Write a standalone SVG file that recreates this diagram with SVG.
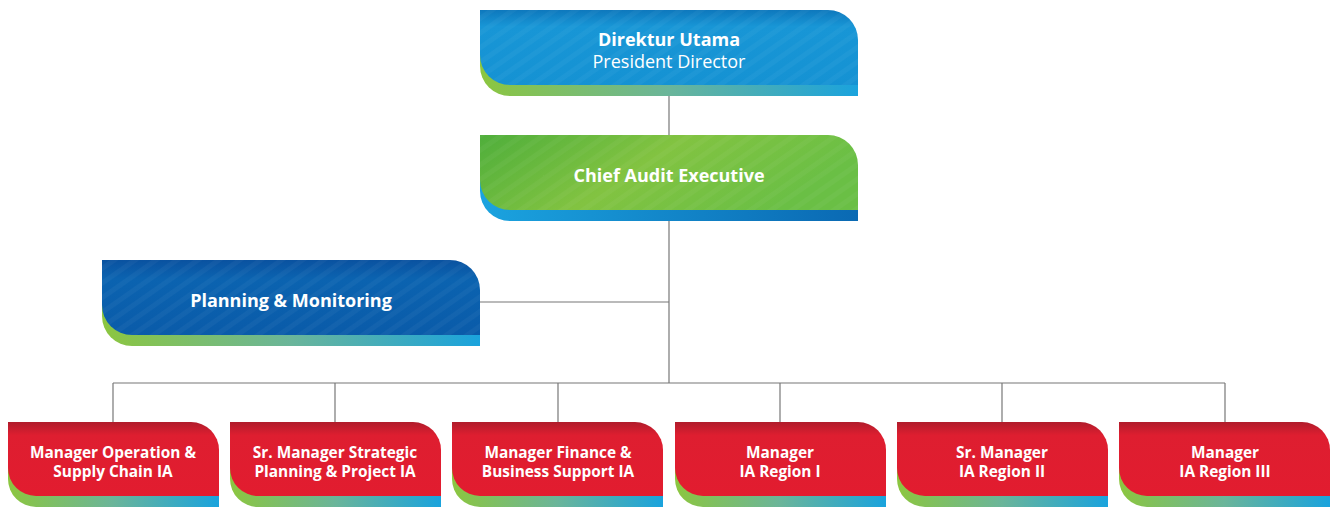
<svg xmlns="http://www.w3.org/2000/svg" width="1333" height="507" viewBox="0 0 1333 507">
<defs>
<linearGradient id="gb" x1="0" y1="0" x2="1" y2="0"><stop offset="0" stop-color="#8cc63f"/><stop offset="0.5" stop-color="#6ab59a"/><stop offset="1" stop-color="#1aa3dd"/></linearGradient>
<linearGradient id="bb" x1="0" y1="0" x2="1" y2="0"><stop offset="0" stop-color="#1ba3df"/><stop offset="1" stop-color="#0a69b3"/></linearGradient>
<linearGradient id="blue1" x1="0" y1="0" x2="0" y2="1"><stop offset="0" stop-color="#0e78bd"/><stop offset="0.22" stop-color="#1896d6"/><stop offset="1" stop-color="#1592d3"/></linearGradient>
<linearGradient id="green1" x1="0" y1="0" x2="1" y2="0.3"><stop offset="0" stop-color="#4fae3b"/><stop offset="0.5" stop-color="#82c341"/><stop offset="1" stop-color="#6abf45"/></linearGradient>
<linearGradient id="blue2" x1="0" y1="0" x2="0" y2="1"><stop offset="0" stop-color="#0a52a0"/><stop offset="0.25" stop-color="#0b63b0"/><stop offset="1" stop-color="#0a5ba9"/></linearGradient>
<linearGradient id="red1" x1="0" y1="0" x2="0" y2="1"><stop offset="0" stop-color="#b01c2b"/><stop offset="0.18" stop-color="#de1e30"/><stop offset="1" stop-color="#e21c2f"/></linearGradient>
<pattern id="stripes" width="12" height="12" patternUnits="userSpaceOnUse" patternTransform="rotate(-35)"><rect width="12" height="5" fill="#ffffff" opacity="0.035"/></pattern>
</defs>
<style>
.t{font-family:"Open Sans","Noto Sans","Liberation Sans",sans-serif;fill:#ffffff;text-anchor:middle}
.b{font-weight:700}
.big{font-size:18px}
.sm{font-size:15.4px}
.ln{stroke:#777777;stroke-width:1.2;fill:none}
</style>
<g id="connectors">
<line class="ln" x1="669" y1="96" x2="669" y2="135"/>
<line class="ln" x1="669" y1="221" x2="669" y2="383"/>
<line class="ln" x1="480" y1="302" x2="669" y2="302"/>
<line class="ln" x1="113" y1="383" x2="1225" y2="383"/>
<line class="ln" x1="113" y1="383" x2="113" y2="422"/>
<line class="ln" x1="335" y1="383" x2="335" y2="422"/>
<line class="ln" x1="558" y1="383" x2="558" y2="422"/>
<line class="ln" x1="780" y1="383" x2="780" y2="422"/>
<line class="ln" x1="1002" y1="383" x2="1002" y2="422"/>
<line class="ln" x1="1225" y1="383" x2="1225" y2="422"/>
</g>
<g id="node-direktur">
<path d="M480,21 H828 A30 30 0 0 1 858,51 V96 H510 A30 30 0 0 1 480,66 Z" fill="url(#gb)"/>
<path d="M480,10 H828 A30 30 0 0 1 858,40 V85 H510 A30 30 0 0 1 480,55 Z" fill="url(#blue1)"/>
<path d="M480,10 H828 A30 30 0 0 1 858,40 V85 H510 A30 30 0 0 1 480,55 Z" fill="url(#stripes)"/>
<text class="t b big" x="669" y="46">Direktur Utama</text>
<text class="t big" x="669" y="68">President Director</text>
</g>
<g id="node-cae">
<path d="M480,146 H828 A30 30 0 0 1 858,176 V221 H510 A30 30 0 0 1 480,191 Z" fill="url(#bb)"/>
<path d="M480,135 H828 A30 30 0 0 1 858,165 V210 H510 A30 30 0 0 1 480,180 Z" fill="url(#green1)"/>
<path d="M480,135 H828 A30 30 0 0 1 858,165 V210 H510 A30 30 0 0 1 480,180 Z" fill="url(#stripes)"/>
<text class="t b big" x="669" y="182">Chief Audit Executive</text>
</g>
<g id="node-planning">
<path d="M102,271 H450 A30 30 0 0 1 480,301 V346 H132 A30 30 0 0 1 102,316 Z" fill="url(#gb)"/>
<path d="M102,260 H450 A30 30 0 0 1 480,290 V335 H132 A30 30 0 0 1 102,305 Z" fill="url(#blue2)"/>
<path d="M102,260 H450 A30 30 0 0 1 480,290 V335 H132 A30 30 0 0 1 102,305 Z" fill="url(#stripes)"/>
<text class="t b big" x="291" y="307">Planning &amp; Monitoring</text>
</g>
<g id="node-m1">
<path d="M8,433 H191 A28 28 0 0 1 219,461 V507 H36 A28 28 0 0 1 8,479 Z" fill="url(#gb)"/>
<path d="M8,422 H191 A28 28 0 0 1 219,450 V496 H36 A28 28 0 0 1 8,468 Z" fill="url(#red1)"/>
<text class="t b sm" x="113" y="458">Manager Operation &amp;</text>
<text class="t b sm" x="113" y="477">Supply Chain IA</text>
</g>
<g id="node-m2">
<path d="M230,433 H413 A28 28 0 0 1 441,461 V507 H258 A28 28 0 0 1 230,479 Z" fill="url(#gb)"/>
<path d="M230,422 H413 A28 28 0 0 1 441,450 V496 H258 A28 28 0 0 1 230,468 Z" fill="url(#red1)"/>
<text class="t b sm" x="335" y="458">Sr. Manager Strategic</text>
<text class="t b sm" x="335" y="477">Planning &amp; Project IA</text>
</g>
<g id="node-m3">
<path d="M452,433 H635 A28 28 0 0 1 663,461 V507 H480 A28 28 0 0 1 452,479 Z" fill="url(#gb)"/>
<path d="M452,422 H635 A28 28 0 0 1 663,450 V496 H480 A28 28 0 0 1 452,468 Z" fill="url(#red1)"/>
<text class="t b sm" x="558" y="458">Manager Finance &amp;</text>
<text class="t b sm" x="558" y="477">Business Support IA</text>
</g>
<g id="node-m4">
<path d="M675,433 H858 A28 28 0 0 1 886,461 V507 H703 A28 28 0 0 1 675,479 Z" fill="url(#gb)"/>
<path d="M675,422 H858 A28 28 0 0 1 886,450 V496 H703 A28 28 0 0 1 675,468 Z" fill="url(#red1)"/>
<text class="t b sm" x="780" y="458">Manager</text>
<text class="t b sm" x="780" y="477">IA Region I</text>
</g>
<g id="node-m5">
<path d="M897,433 H1080 A28 28 0 0 1 1108,461 V507 H925 A28 28 0 0 1 897,479 Z" fill="url(#gb)"/>
<path d="M897,422 H1080 A28 28 0 0 1 1108,450 V496 H925 A28 28 0 0 1 897,468 Z" fill="url(#red1)"/>
<text class="t b sm" x="1002" y="458">Sr. Manager</text>
<text class="t b sm" x="1002" y="477">IA Region II</text>
</g>
<g id="node-m6">
<path d="M1119,433 H1302 A28 28 0 0 1 1330,461 V507 H1147 A28 28 0 0 1 1119,479 Z" fill="url(#gb)"/>
<path d="M1119,422 H1302 A28 28 0 0 1 1330,450 V496 H1147 A28 28 0 0 1 1119,468 Z" fill="url(#red1)"/>
<text class="t b sm" x="1225" y="458">Manager</text>
<text class="t b sm" x="1225" y="477">IA Region III</text>
</g>
</svg>
